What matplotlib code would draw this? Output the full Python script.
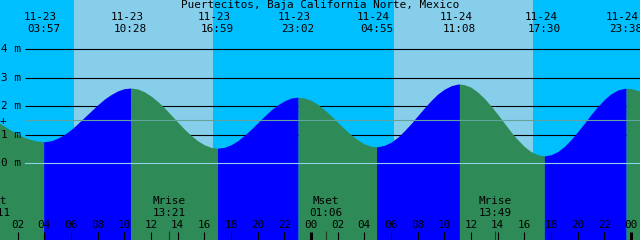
import matplotlib
matplotlib.use("Agg")
import matplotlib.pyplot as plt

# ---------------- data ----------------
title = "Puertecitos, Baja California Norte, Mexico"
# half-hourly heights (m), times in hours counted from 11-23 00:00
tide_times = [k / 2 for k in range(99)]
tide_heights = [
    1.59, 1.45, 1.30, 1.16, 1.02, 0.91, 0.83, 0.78, 0.76, 0.79,
    0.88, 1.01, 1.18, 1.39, 1.61, 1.83, 2.05, 2.25, 2.41, 2.54,
    2.62, 2.64, 2.61, 2.51, 2.36, 2.17, 1.95, 1.70, 1.45, 1.20,
    0.98, 0.79, 0.65, 0.56, 0.53, 0.56, 0.65, 0.79, 0.98, 1.19,
    1.42, 1.65, 1.87, 2.05, 2.19, 2.29, 2.32, 2.29, 2.21, 2.07,
    1.88, 1.67, 1.44, 1.21, 1.00, 0.82, 0.68, 0.60, 0.58, 0.63,
    0.74, 0.91, 1.14, 1.39, 1.67, 1.94, 2.20, 2.43, 2.60, 2.72,
    2.78, 2.76, 2.67, 2.50, 2.28, 2.01, 1.72, 1.41, 1.10, 0.83,
    0.59, 0.41, 0.30, 0.26, 0.30, 0.41, 0.59, 0.83, 1.11, 1.40,
    1.71, 1.99, 2.24, 2.44, 2.57, 2.63, 2.62, 2.56, 2.47,
]
# high / low tide events (hours from 11-23 00:00); first and last lie off-chart
ext_times = [-2.3, 3.95, 10.467, 16.983, 23.033, 28.917, 35.133, 41.5, 47.633, 53.9]
ext_heights = [1.95, 0.76, 2.64, 0.53, 2.32, 0.58, 2.78, 0.26, 2.63, 1.2]
ext_dates = ["", "11-23", "11-23", "11-23", "11-23", "11-24", "11-24", "11-24", "11-24", ""]
ext_labels = ["", "03:57", "10:28", "16:59", "23:02", "04:55", "11:08", "17:30", "23:38", ""]
# daylight (sunrise, sunset) in hours
day_spans = [(6.22, 16.65), (30.23, 40.65)]
# moon events
moon_times = [0.183, 13.35, 25.1, 37.817]
moon_names = ["Mset", "Mrise", "Mset", "Mrise"]
moon_labels = ["00:11", "13:21", "01:06", "13:49"]
level_lines = [1, 2, 3, 4]
mean_level = 1.51
hour_ticks = list(range(2, 49, 2))

# ---------------- geometry helpers ----------------
X0 = 0.675          # hour at left edge
PXH = 640 / 48.0    # pixels per hour
Y0PX = 163.3        # pixel row of 0 m
PXM = 28.5          # pixels per metre


def px2x(px):
    return X0 + px / PXH


def py2y(py):
    return (Y0PX - py) / PXM


NIGHT = "#00BFFF"
DAY = "#87CEEB"
RISE = "#0000FF"
FALL = "#2E8B57"
FONT = "DejaVu Sans Mono"
FS = 7.9

fig = plt.figure(figsize=(6.4, 2.4), dpi=100)
ax = fig.add_axes([0, 0, 1, 1])
ax.set_xlim(px2x(0), px2x(640))
ax.set_ylim(py2y(240), py2y(0))
ax.axis("off")
fig.patch.set_facecolor(NIGHT)

ax.axvspan(px2x(-10), px2x(650), color=NIGHT, zorder=0, lw=0)
for a, b in day_spans:
    ax.axvspan(a, b, color=DAY, zorder=0.5, lw=0)

# black metre lines (under the water)
for lv in level_lines:
    ax.plot([px2x(25), px2x(641)], [lv, lv], color="black", lw=0.8, zorder=1,
            solid_capstyle="butt")
    ax.text(px2x(1), lv, f"{lv} m", family=FONT, fontsize=FS, ha="left",
            va="center", zorder=6)
ax.text(px2x(1), 0, "0 m", family=FONT, fontsize=FS, ha="left", va="center", zorder=6)

# water fill, segment by segment between high and low tides
bottom = py2y(241)
for i in range(len(ext_times) - 1):
    t1, t2 = ext_times[i], ext_times[i + 1]
    inside = [(t, h) for t, h in zip(tide_times, tide_heights) if t1 < t < t2]
    xs = [t1] + [p[0] for p in inside] + [t2]
    ys = [ext_heights[i]] + [p[1] for p in inside] + [ext_heights[i + 1]]
    col = RISE if ext_heights[i + 1] > ext_heights[i] else FALL
    ax.fill_between(xs, ys, bottom, color=col, lw=0, zorder=2)

# datum and mean lines on top
ax.plot([px2x(25), px2x(641)], [0, 0], color="#8ED0E6", lw=0.8, zorder=4)
ax.plot([px2x(25), px2x(641)], [mean_level, mean_level], color="#62A39B", lw=0.8, zorder=4)
ax.text(px2x(3), py2y(121.5), "+", family=FONT, fontsize=FS, ha="center", va="center", zorder=6)

# title
ax.text(px2x(320), py2y(5.5), title, family=FONT, fontsize=FS, ha="center", va="center", zorder=6)

# extreme labels
for t, d, lab in zip(ext_times, ext_dates, ext_labels):
    if not lab:
        continue
    ax.text(t - 3.5 / PXH, py2y(17.5), d, family=FONT, fontsize=FS, ha="center", va="center", zorder=6)
    ax.text(t, py2y(29.5), lab, family=FONT, fontsize=FS, ha="center", va="center", zorder=6)

# hour ticks and labels
for hr in hour_ticks:
    lw = 2.2 if hr % 24 == 0 else 0.8
    ax.plot([hr, hr], [py2y(232), py2y(241)], color="black", lw=lw, zorder=5,
            solid_capstyle="butt")
    ax.text(hr, py2y(225), f"{hr % 24:02d}", family=FONT, fontsize=FS,
            ha="center", va="center", zorder=6)

# moon events
for t, n, lab in zip(moon_times, moon_names, moon_labels):
    ax.plot([t, t], [py2y(231), py2y(241)], color="#1a3a24", lw=0.8, zorder=5,
            solid_capstyle="butt")
    ax.text(t, py2y(201.5), n, family=FONT, fontsize=FS, ha="center", va="center", zorder=6)
    ax.text(t, py2y(212.5), lab, family=FONT, fontsize=FS, ha="center", va="center", zorder=6)

fig.savefig("out.png", dpi=100, facecolor=NIGHT)
